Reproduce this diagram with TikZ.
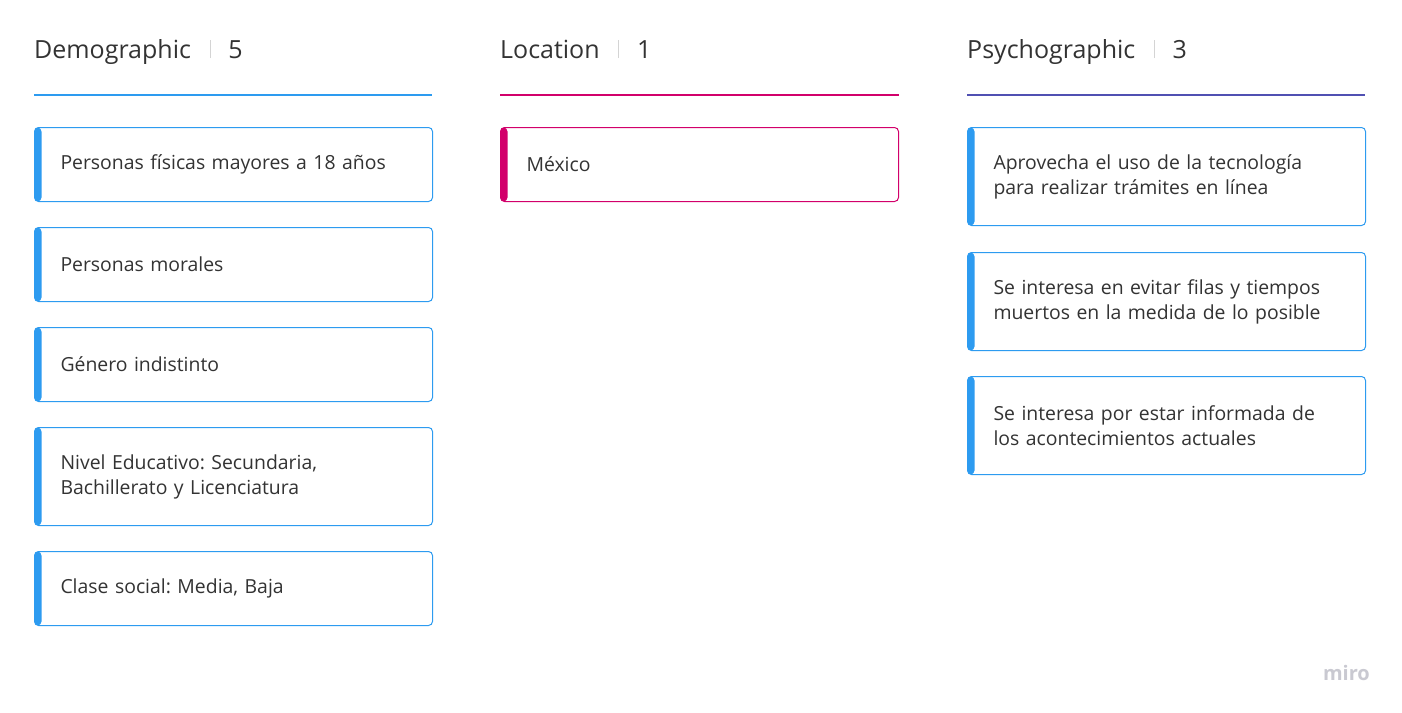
\documentclass[tikz,border=0pt]{standalone}
\usepackage{fontspec}
\setmainfont{Open Sans}
\frenchspacing
\definecolor{miroblue}{HTML}{2D9BF0}
\definecolor{miropink}{HTML}{D2006B}
\definecolor{miropurple}{HTML}{5050B2}
\definecolor{textgray}{HTML}{333333}
\definecolor{sepgray}{HTML}{D4D4D4}
\definecolor{logogray}{HTML}{C9C9D1}

\begin{document}
\begin{tikzpicture}[x=1pt,y=-1pt,
   head/.style={anchor=base west,inner sep=0pt,text=textgray,font=\fontsize{25}{30}\selectfont},
   sepline/.style={draw=sepgray,line width=1pt},
   headline/.style={line width=2.5pt,draw=#1},
   card/.style={draw=#1,line width=1pt,rounded corners=4pt,fill=white,
      anchor=north west,text width=346pt,inner xsep=26pt,inner ysep=0pt,
      minimum height=74pt,align=left,text=textgray,font=\fontsize{19.4}{25}\selectfont,
      path picture={\fill[#1] (path picture bounding box.south west) rectangle
         ([xshift=7pt]path picture bounding box.north west);}},
   tallcard/.style={card=#1,minimum height=98pt}]
\fill[white] (0,0) rectangle (1402,712);
\useasboundingbox (0,0) rectangle (1402,712);

% Demographic
\node[head] (demh) at (34,58) {Demographic};
\node[head] (demn) at ([xshift=37pt]demh.base east) {5};
\draw[sepline] ([xshift=19pt]demh.base east) -- ++(0pt,18pt);
\coordinate (dema) at (34,95);
\coordinate (demb) at (432,95);
\draw[headline=miroblue] (dema) -- (demb);
\node[card=miroblue] (dem1) at (34,127) {Personas físicas mayores a 18 años};
\node[card=miroblue] (dem2) at (34,227) {Personas morales};
\node[card=miroblue] (dem3) at (34,327) {Género indistinto};
\node[tallcard=miroblue] (dem4) at (34,427) {Nivel Educativo: Secundaria,\\Bachillerato y Licenciatura};
\node[card=miroblue] (dem5) at (34,551) {Clase social: Media, Baja};

% Location
\node[head] (loch) at (500,58) {Location};
\node[head] (locn) at ([xshift=37pt]loch.base east) {1};
\draw[sepline] ([xshift=19pt]loch.base east) -- ++(0pt,18pt);
\coordinate (loca) at (500,95);
\coordinate (locb) at (899,95);
\draw[headline=miropink] (loca) -- (locb);
\node[card=miropink] (loc1) at (500,127) {México};

% Psychographic
\node[head] (psyh) at (967,58) {Psychographic};
\node[head] (psyn) at ([xshift=37pt]psyh.base east) {3};
\draw[sepline] ([xshift=19pt]psyh.base east) -- ++(0pt,18pt);
\coordinate (psya) at (967,95);
\coordinate (psyb) at (1365,95);
\draw[headline=miropurple] (psya) -- (psyb);
\node[tallcard=miroblue] (psy1) at (967,127) {Aprovecha el uso de la tecnología\\para realizar trámites en línea};
\node[tallcard=miroblue] (psy2) at (967,252) {Se interesa en evitar filas y tiempos\\muertos en la medida de lo posible};
\node[tallcard=miroblue] (psy3) at (967,376) {Se interesa por estar informada de\\los acontecimientos actuales};

\node[anchor=base east,inner sep=0pt,text=logogray,font=\fontsize{20}{24}\selectfont\bfseries] (logo) at (1370,680) {miro};
\end{tikzpicture}
\end{document}
